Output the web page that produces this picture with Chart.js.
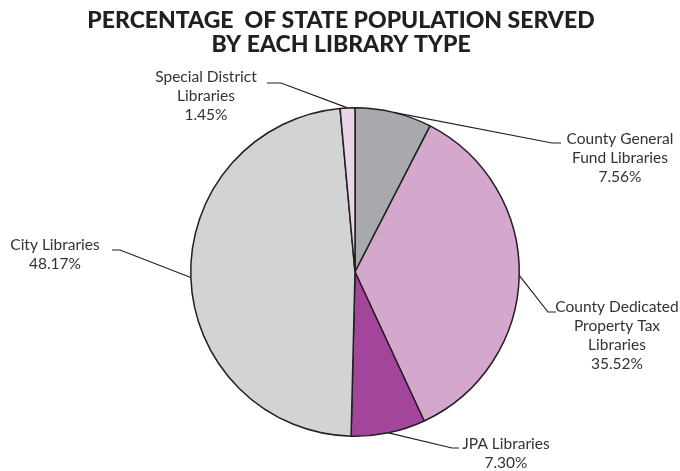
<!DOCTYPE html>
<html>
<head>
<meta charset="utf-8">
<script src="https://cdn.jsdelivr.net/npm/chart.js@4.4.0/dist/chart.umd.min.js"></script>
<style>
  body { margin: 0; background: #fff; }
  #wrap { width: 680px; height: 471px; position: relative; }
</style>
</head>
<body>
<div id="wrap"><canvas id="graficoBibliotecas"></canvas></div>
<script>
// datos del grafico
const categorias = ['County General Fund Libraries', 'County Dedicated Property Tax Libraries', 'JPA Libraries', 'City Libraries', 'Special District Libraries'];
const porcentajes = [7.56, 35.52, 7.30, 48.17, 1.45];
const etiquetas = [
  ['County General', 'Fund Libraries'],
  ['County Dedicated', 'Property Tax', 'Libraries'],
  ['JPA Libraries'],
  ['City Libraries'],
  ['Special District', 'Libraries']
];
const colores = ['#a7a9ac', '#d4a7cd', '#a3469b', '#d1d3d4', '#ead4e8'];
const titulo = ['PERCENTAGE  OF STATE POPULATION SERVED', 'BY EACH LIBRARY TYPE'];

// posicion de cada etiqueta: centro del texto, codo de la linea y final horizontal
const posEtiquetas = [
  { cx: 620, y0: 139, codo: [552, 143], fin: 561 },
  { cx: 617, y0: 307, codo: [548, 312], fin: 556 },
  { cx: 506, y0: 444, codo: [452, 448], fin: 459 },
  { cx: 55, y0: 245, codo: [120, 250], fin: 112 },
  { cx: 206, y0: 77, codo: [281, 83], fin: 267 }
];

// plugin para el titulo y las etiquetas con lineas guia
const etiquetasPlugin = {
  id: 'etiquetasPie',
  afterDraw(chart) {
    const ctx = chart.ctx;
    ctx.save();
    ctx.fillStyle = '#231f20';
    ctx.font = '900 23px Lato';
    ctx.textAlign = 'center';
    ctx.textBaseline = 'middle';
    titulo.forEach(function (t, i) {
      ctx.fillText(t, 341, 21 + i * 24);
    });

    const meta = chart.getDatasetMeta(0);
    meta.data.forEach(function (arc, i) {
      const p = posEtiquetas[i];
      const mid = (arc.startAngle + arc.endAngle) / 2;
      const px = arc.x + Math.cos(mid) * arc.outerRadius;
      const py = arc.y + Math.sin(mid) * arc.outerRadius;
      ctx.strokeStyle = '#231f20';
      ctx.lineWidth = 1.2;
      ctx.beginPath();
      ctx.moveTo(px, py);
      ctx.lineTo(p.codo[0], p.codo[1]);
      ctx.lineTo(p.fin, p.codo[1]);
      ctx.stroke();

      const lineas = etiquetas[i].concat([porcentajes[i].toFixed(2) + '%']);
      ctx.fillStyle = '#333333';
      ctx.font = '15.5px Lato';
      lineas.forEach(function (l, j) {
        ctx.fillText(l, p.cx, p.y0 + j * 19);
      });
    });
    ctx.restore();
  }
};

const ctx = document.getElementById('graficoBibliotecas');
new Chart(ctx, {
  type: 'pie',
  data: {
    labels: categorias,
    datasets: [{
      data: porcentajes,
      backgroundColor: colores,
      borderColor: '#231f20',
      borderWidth: 1.5
    }]
  },
  options: {
    responsive: true,
    maintainAspectRatio: false,
    animation: false,
    layout: { padding: { top: 107, bottom: 34, left: 30, right: 0 } },
    plugins: {
      legend: { display: false },
      title: { display: false },
      tooltip: { enabled: false }
    }
  },
  plugins: [etiquetasPlugin]
});
</script>
</body>
</html>
